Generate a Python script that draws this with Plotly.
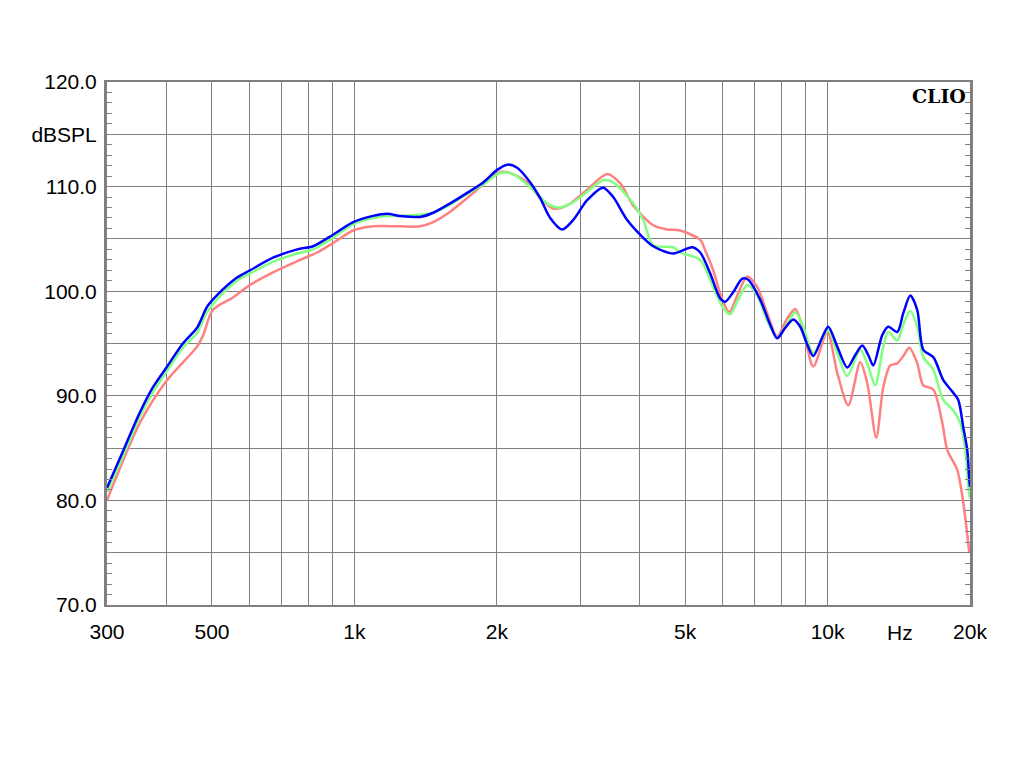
import math
import plotly.graph_objects as go

# ---- data ----
blue_f = [300, 320, 352, 375, 402, 434, 465, 488, 512, 565, 602, 673, 757, 818, 901, 994, 1095, 1172, 1249, 1377,
          1467, 1594, 1731, 1871, 2003, 2103, 2208, 2353, 2470, 2593, 2749, 2899, 3104, 3355, 3523, 3772, 4018,
          4281, 4718, 5175, 5381, 5649, 5931, 6077, 6317, 6602, 6798, 7205, 7564, 7826, 8138, 8461, 8755, 9059,
          9329, 9747, 10036, 10483, 11007, 11443, 11840, 12190, 12491, 13049, 13437, 14039, 14455, 14956, 15473,
          15935, 16730, 17563, 18350, 18891, 19356, 19738, 19930, 20000]
blue_db = [81.2, 84.1, 88.4, 90.8, 92.8, 95.0, 96.5, 98.5, 99.6, 101.3, 102.0, 103.2, 104.0, 104.3, 105.4, 106.6,
           107.2, 107.4, 107.2, 107.1, 107.5, 108.4, 109.4, 110.4, 111.6, 112.1, 111.8, 110.4, 108.9, 107.0, 105.9,
           106.8, 108.7, 109.9, 109.0, 106.8, 105.4, 104.3, 103.6, 104.2, 103.7, 101.7, 99.3, 99.0, 99.9, 101.2,
           101.1, 99.2, 96.8, 95.5, 96.5, 97.3, 96.6, 94.9, 93.8, 95.6, 96.6, 94.7, 92.7, 93.9, 94.8, 93.9, 92.9,
           95.8, 96.6, 96.1, 97.9, 99.6, 98.2, 94.4, 93.7, 91.5, 90.4, 89.6, 87.0, 84.8, 82.0, 81.3]

green_f = [300, 320, 352, 375, 402, 434, 465, 488, 512, 565, 602, 673, 757, 818, 901, 994, 1095, 1172, 1249, 1377,
           1467, 1594, 1731, 1871, 2032, 2166, 2387, 2555, 2696, 2899, 3104, 3355, 3523, 3883, 4078, 4281, 4718,
           4881, 5381, 5732, 6017, 6226, 6474, 6765, 7100, 7454, 7826, 8217, 8544, 8885, 9329, 10036, 10483, 11007,
           11725, 12190, 12612, 13112, 13437, 14039, 14455, 14956, 15473, 15935, 16730, 17563, 18439, 19075, 19547,
           19930, 20000]
green_db = [80.8, 83.6, 88.0, 90.3, 92.4, 94.6, 96.0, 98.0, 99.2, 101.0, 101.7, 102.8, 103.6, 104.0, 105.1, 106.4,
            107.0, 107.2, 107.2, 107.3, 107.5, 108.3, 109.3, 110.2, 111.3, 111.2, 109.7, 108.4, 108.0, 108.5, 109.5,
            110.6, 110.4, 108.4, 106.8, 104.4, 104.2, 103.7, 103.0, 100.4, 98.4, 97.8, 99.2, 100.6, 99.6, 97.2,
            95.6, 96.9, 98.0, 96.6, 94.1, 96.3, 94.1, 91.9, 94.4, 92.8, 91.0, 94.7, 96.1, 95.3, 96.8, 98.1, 96.6,
            93.7, 92.5, 89.6, 88.6, 87.4, 84.8, 80.5, 80.2]

red_f = [300, 352, 402, 465, 479, 502, 554, 602, 673, 768, 834, 901, 994, 1095, 1249, 1377, 1467, 1594, 1731, 1871,
         2032, 2134, 2317, 2470, 2631, 2816, 3104, 3421, 3646, 3883, 4281, 4580, 4881, 5381, 5514, 5732, 5988, 6196,
         6474, 6765, 7100, 7454, 7826, 8217, 8544, 8885, 9329, 9988, 10483, 11060, 11725, 12131, 12674, 13112,
         13567, 14039, 14455, 14884, 15473, 15935, 16730, 17478, 17910, 18799, 19356, 19930]
red_db = [80.0, 87.4, 91.5, 94.7, 95.8, 98.2, 99.4, 100.6, 101.8, 103.0, 103.7, 104.6, 105.8, 106.2, 106.2, 106.2,
          106.6, 107.6, 108.9, 110.2, 111.4, 111.3, 110.4, 108.9, 107.9, 108.2, 109.7, 111.2, 110.3, 108.2, 106.3,
          105.9, 105.8, 104.9, 103.9, 102.0, 99.2, 98.0, 99.8, 101.4, 100.4, 97.9, 95.7, 97.4, 98.3, 96.3, 92.8,
          96.1, 92.2, 89.1, 93.2, 91.2, 86.0, 90.8, 92.9, 93.1, 93.8, 94.6, 93.1, 91.0, 90.6, 87.4, 84.8, 82.9,
          79.8, 75.0]

x_grid = [300, 400, 500, 600, 700, 800, 900, 1000, 2000, 3000, 4000, 5000, 6000, 7000, 8000, 9000, 10000, 20000]
x_labels = {300: "300", 500: "500", 1000: "1k", 2000: "2k", 5000: "5k", 10000: "10k", 20000: "20k"}
y_grid = [70, 75, 80, 85, 90, 95, 100, 105, 110, 115, 120]
y_labels = {70: "70.0", 80: "80.0", 90: "90.0", 100: "100.0", 110: "110.0", 115: "dBSPL", 120: "120.0"}

fig = go.Figure()
for f, d, c in [(red_f, red_db, "#FF8080"), (green_f, green_db, "#80FF80"), (blue_f, blue_db, "#0000FF")]:
    fig.add_trace(go.Scatter(x=f, y=d, mode="lines", line=dict(color=c, width=2.5, shape="spline", smoothing=0.8),
                             showlegend=False, hoverinfo="skip"))

font = dict(family="Liberation Sans, Arial, sans-serif", size=21, color="black")
fig.update_xaxes(type="log", range=[math.log10(300), math.log10(20000)],
                 tickmode="array", tickvals=x_grid, ticktext=[x_labels.get(v, "") for v in x_grid],
                 showgrid=True, gridcolor="#808080", gridwidth=1,
                 showline=True, linecolor="#808080", linewidth=2, mirror=True,
                 ticks="", ticklabelstandoff=7, tickfont=font, zeroline=False)
fig.update_yaxes(range=[70, 120], tickmode="array", tickvals=y_grid,
                 ticktext=[y_labels.get(v, "") for v in y_grid],
                 showgrid=True, gridcolor="#808080", gridwidth=1,
                 showline=True, linecolor="#808080", linewidth=3, mirror="ticks",
                 ticks="inside", ticklen=5, tickcolor="#808080",
                 minor=dict(dtick=1, tick0=70, ticks="inside", ticklen=5, tickcolor="#808080", showgrid=False),
                 ticklabelstandoff=3, tickfont=font, zeroline=False)

fig.add_annotation(x=math.log10(14200), y=0, xref="x", yref="paper", yanchor="middle", yshift=-27, text="Hz",
                   showarrow=False, font=font)
fig.add_annotation(x=0.998, y=0.999, xref="paper", yref="paper", xanchor="right", yanchor="top",
                   text="<b>CLIO</b>", showarrow=False,
                   font=dict(family="DejaVu Serif, Liberation Serif, serif", size=19, color="black"))

fig.update_layout(width=1024, height=768, margin=dict(l=99, r=62, t=74, b=171, autoexpand=False),
                  paper_bgcolor="white", plot_bgcolor="white")
fig.write_html("out.html")
